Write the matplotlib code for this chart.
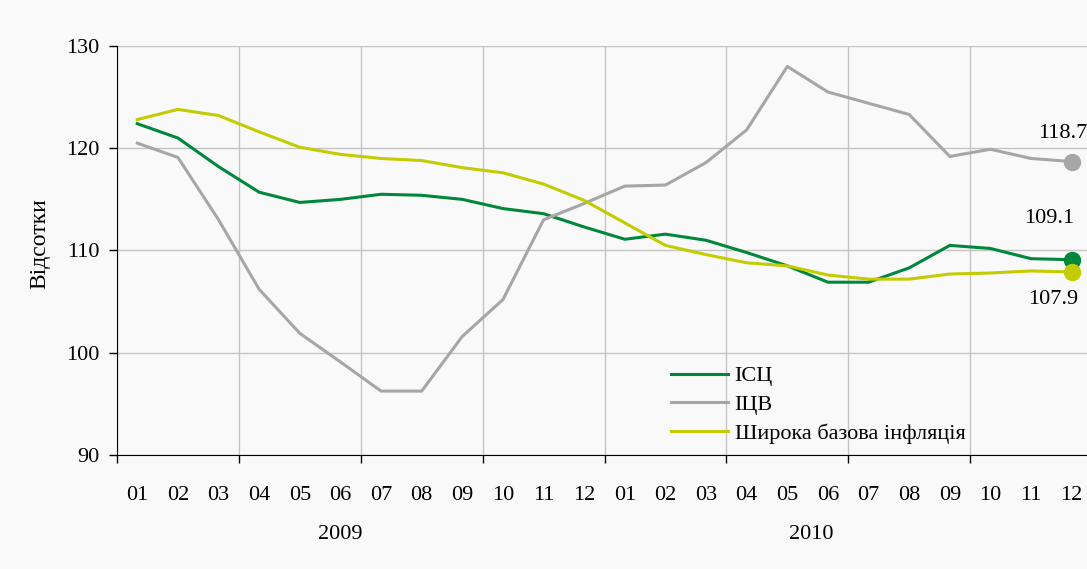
import numpy as np
import matplotlib
matplotlib.use("Agg")
import matplotlib.pyplot as plt
from matplotlib.ticker import FixedLocator, NullFormatter

plt.rcParams["font.family"] = ["Liberation Serif", "DejaVu Serif"]

# data (index = month, 2009-01 .. 2010-12)
months = ["01", "02", "03", "04", "05", "06", "07", "08", "09", "10", "11", "12"] * 2
years = ["2009", "2010"]

cpi = [122.4, 121.0, 118.2, 115.7, 114.7, 115.0, 115.5, 115.4, 115.0, 114.1, 113.6, 112.3,
       111.1, 111.6, 111.0, 109.8, 108.5, 106.9, 106.9, 108.3, 110.5, 110.2, 109.2, 109.1]
ppi = [120.5, 119.1, 113.0, 106.2, 101.9, 99.1, 96.25, 96.25, 101.6, 105.2, 113.0, 114.6,
       116.3, 116.4, 118.6, 121.8, 128.0, 125.5, 124.4, 123.3, 119.2, 119.9, 119.0, 118.7]
core = [122.8, 123.8, 123.2, 121.6, 120.1, 119.4, 119.0, 118.8, 118.1, 117.6, 116.5, 114.9,
        112.7, 110.5, 109.6, 108.8, 108.5, 107.6, 107.2, 107.2, 107.7, 107.8, 108.0, 107.9]

series = [
    ("ІСЦ", cpi, "#00873c"),
    ("ІЦВ", ppi, "#a6a6a6"),
    ("Широка базова інфляція", core, "#c3cc00"),
]

FS = 16
bg = "#f9f9f9"
fig = plt.figure(figsize=(10.87, 5.69), dpi=100, facecolor=bg)
W, H = 1087, 569
ax = fig.add_axes([117 / W, (H - 455) / H, 975 / W, (455 - 46) / H], facecolor=bg)

x = np.arange(len(months))
for label, vals, color in series:
    ax.plot(x, vals, color=color, lw=2.2, label=label, zorder=3)
    ax.plot(x[-1], vals[-1], "o", color=color, ms=11.5, zorder=4)

# value labels at the last point (offsets in points)
ax.annotate(f"{ppi[-1]:.1f}", (x[-1], ppi[-1]), xytext=(-6.5, 20), textcoords="offset points",
            ha="center", va="center", fontsize=FS)
ax.annotate(f"{cpi[-1]:.1f}", (x[-1], cpi[-1]), xytext=(-16, 29.5), textcoords="offset points",
            ha="center", va="center", fontsize=FS)
ax.annotate(f"{core[-1]:.1f}", (x[-1], core[-1]), xytext=(-13, -20), textcoords="offset points",
            ha="center", va="center", fontsize=FS)

ax.set_xlim(-0.5, 23.5)
ax.set_ylim(90, 130)
ax.set_yticks([90, 100, 110, 120, 130])
ax.tick_params(axis="y", direction="out", length=6, width=1, labelsize=FS, pad=6.5)

# major ticks on quarter boundaries, month labels on minor positions
ax.xaxis.set_major_locator(FixedLocator(np.arange(-0.5, 24, 3)))
ax.xaxis.set_major_formatter(NullFormatter())
ax.xaxis.set_minor_locator(FixedLocator(x))
ax.set_xticklabels(months, minor=True)
ax.tick_params(axis="x", which="major", direction="out", length=6, width=1)
ax.tick_params(axis="x", which="minor", length=0, labelsize=FS, pad=22)

for xpos, yr in zip([5.0, 16.6], years):
    ax.text(xpos, -0.195, yr, transform=ax.get_xaxis_transform(),
            ha="center", va="center", fontsize=FS)

ax.grid(True, which="major", color="#c4c4c4", lw=1)
ax.set_axisbelow(True)
for s in ["top", "right"]:
    ax.spines[s].set_visible(False)
ax.spines["left"].set_color("black")
ax.spines["bottom"].set_color("black")

ax.set_ylabel("Відсотки", fontsize=17)
ax.yaxis.set_label_coords(-0.068, 0.516)

leg = ax.legend(loc="upper left", bbox_to_anchor=(0.568, 0.218), frameon=False,
                fontsize=FS, handlelength=2.57, handletextpad=0.3, labelspacing=0.36,
                borderpad=0, borderaxespad=0)

fig.savefig("out.png", dpi=100, facecolor=bg)
